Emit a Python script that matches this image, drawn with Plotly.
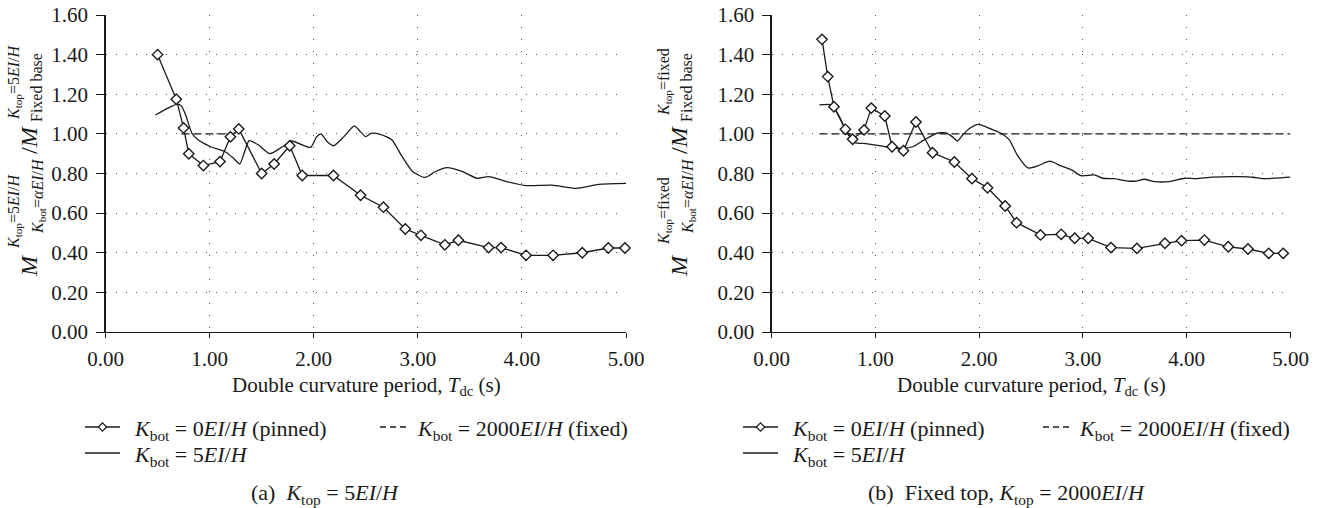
import plotly.graph_objects as go

# ---------------- data ----------------
# (a) K_top = 5EI/H
T_a_pinned = [0.50, 0.68, 0.75, 0.80, 0.94, 1.10, 1.20, 1.28, 1.50, 1.62, 1.77, 1.89, 2.19,
              2.45, 2.67, 2.88, 3.03, 3.26, 3.39, 3.68, 3.80, 4.04, 4.30, 4.58, 4.83, 4.99]
M_a_pinned = [1.40, 1.175, 1.03, 0.90, 0.84, 0.86, 0.985, 1.025, 0.80, 0.848, 0.94, 0.79, 0.79,
              0.69, 0.63, 0.52, 0.488, 0.44, 0.463, 0.426, 0.426, 0.387, 0.387, 0.40, 0.424, 0.424]

T_a_k5 = [0.48, 0.60, 0.69, 0.73, 0.77, 0.83, 0.89, 1.01, 1.15, 1.23, 1.29, 1.33, 1.38, 1.47,
          1.58, 1.70, 1.79, 1.89, 1.97, 2.03, 2.07, 2.13, 2.19, 2.29, 2.39, 2.45, 2.50, 2.55,
          2.64, 2.75, 2.85, 2.95, 3.07, 3.17, 3.28, 3.43, 3.57, 3.68, 3.85, 4.04, 4.29, 4.52,
          4.74, 5.00]
M_a_k5 = [1.095, 1.13, 1.15, 1.14, 1.095, 1.003, 0.97, 0.935, 0.91, 0.877, 0.848, 0.90, 0.966,
          0.944, 0.90, 0.935, 0.964, 0.944, 0.932, 0.986, 1.0, 0.96, 0.94, 0.986, 1.04, 1.01,
          0.986, 1.003, 0.998, 0.97, 0.885, 0.81, 0.78, 0.81, 0.83, 0.81, 0.776, 0.784, 0.76,
          0.739, 0.741, 0.725, 0.745, 0.75]

T_a_fixed = [0.73, 1.21]
M_a_fixed = [1.00, 1.00]

# (b) Fixed top, K_top = 2000EI/H
T_b_pinned = [0.485, 0.54, 0.60, 0.71, 0.78, 0.89, 0.96, 1.09, 1.16, 1.27, 1.39, 1.55, 1.76,
              1.93, 2.08, 2.25, 2.36, 2.59, 2.79, 2.92, 3.05, 3.27, 3.52, 3.79, 3.95, 4.17,
              4.40, 4.59, 4.79, 4.93]
M_b_pinned = [1.477, 1.289, 1.137, 1.023, 0.973, 1.02, 1.13, 1.09, 0.935, 0.915, 1.06, 0.905,
              0.858, 0.774, 0.728, 0.636, 0.552, 0.49, 0.493, 0.473, 0.473, 0.426, 0.422, 0.448,
              0.461, 0.464, 0.43, 0.419, 0.397, 0.397]

T_b_k5 = [0.46, 0.58, 0.66, 0.72, 0.80, 0.91, 1.10, 1.26, 1.36, 1.47, 1.59, 1.68, 1.74, 1.79,
          1.84, 1.91, 1.99, 2.10, 2.21, 2.29, 2.37, 2.47, 2.57, 2.68, 2.79, 2.89, 2.98, 3.11,
          3.19, 3.30, 3.43, 3.51, 3.59, 3.69, 3.83, 3.98, 4.09, 4.25, 4.51, 4.64, 4.73, 4.86,
          5.00]
M_b_k5 = [1.146, 1.146, 1.079, 1.011, 0.956, 0.951, 0.935, 0.927, 0.935, 0.97, 1.003, 1.005,
          0.986, 0.964, 0.994, 1.028, 1.048, 1.028, 1.003, 0.97, 0.89, 0.828, 0.84, 0.862,
          0.838, 0.818, 0.789, 0.793, 0.776, 0.774, 0.762, 0.762, 0.771, 0.759, 0.759, 0.776,
          0.774, 0.782, 0.784, 0.781, 0.774, 0.777, 0.782]

T_b_fixed = [0.46, 5.00]
M_b_fixed = [1.00, 1.00]

x_ticks = [0, 1, 2, 3, 4, 5]
y_ticks = [0.0, 0.2, 0.4, 0.6, 0.8, 1.0, 1.2, 1.4, 1.6]

x_title = "Double curvature period, <i>T</i><sub>dc</sub> (s)"
leg_pinned = "<i>K</i><sub>bot</sub> = 0<i>EI</i>/<i>H</i> (pinned)"
leg_fixed = "<i>K</i><sub>bot</sub> = 2000<i>EI</i>/<i>H</i> (fixed)"
leg_k5 = "<i>K</i><sub>bot</sub> = 5<i>EI</i>/<i>H</i>"
cap_a = "(a)  <i>K</i><sub>top</sub> = 5<i>EI</i>/<i>H</i>"
cap_b = "(b)  Fixed top, <i>K</i><sub>top</sub> = 2000<i>EI</i>/<i>H</i>"

# ---------------- figure ----------------
W, H = 1321, 508
FONT = "Liberation Serif"
INK = "#1a1a1a"
FS = 21


def px(x):
    return x / W


def py(y):
    return 1 - y / H


fig = go.Figure()

panels = [
    ("x", "y", T_a_k5, M_a_k5, T_a_fixed, M_a_fixed, T_a_pinned, M_a_pinned),
    ("x2", "y2", T_b_k5, M_b_k5, T_b_fixed, M_b_fixed, T_b_pinned, M_b_pinned),
]
for xa, ya, tk, mk, tf, mf, tp, mp in panels:
    fig.add_trace(go.Scatter(x=tk, y=mk, mode="lines", xaxis=xa, yaxis=ya, showlegend=False,
                             line=dict(color=INK, width=1.3, shape="spline", smoothing=0.6)))
    fig.add_trace(go.Scatter(x=tf, y=mf, mode="lines", xaxis=xa, yaxis=ya, showlegend=False,
                             line=dict(color=INK, width=1.3, dash="8px,4px")))
    fig.add_trace(go.Scatter(x=tp, y=mp, mode="lines+markers", xaxis=xa, yaxis=ya,
                             showlegend=False, cliponaxis=False, line=dict(color=INK, width=1.3),
                             marker=dict(symbol="diamond", size=8, color="white",
                                         line=dict(color=INK, width=1.4))))

ydom = [py(332), py(15)]
xdom_a = [px(105.5), px(626)]
xdom_b = [px(771.7), px(1290.5)]

common_x = dict(range=[0, 5], tickvals=x_ticks, tickformat=".2f", showline=True,
                linecolor=INK, linewidth=1.3, ticks="outside", ticklen=5, tickcolor=INK,
                showgrid=True, gridcolor="#555", gridwidth=1, griddash="1px,11px",
                zeroline=False, tickfont=dict(family=FONT, size=FS, color=INK),
                ticklabelstandoff=2, automargin=False, ticklabeloverflow="allow")
common_y = dict(range=[0, 1.6], tickvals=y_ticks, tickformat=".2f", showline=True,
                linecolor=INK, linewidth=1.3, ticks="outside", ticklen=8, tickcolor=INK,
                showgrid=True, gridcolor="#555", gridwidth=1, griddash="1px,9px",
                zeroline=False, tickfont=dict(family=FONT, size=FS, color=INK),
                ticklabelstandoff=4, automargin=False, ticklabeloverflow="allow")

fig.update_layout(
    width=W, height=H,
    margin=dict(l=0, r=0, t=0, b=0, autoexpand=False),
    paper_bgcolor="white", plot_bgcolor="white",
    font=dict(family=FONT, size=FS, color=INK),
    hovermode=False,
    xaxis=dict(domain=xdom_a, anchor="y", **common_x),
    yaxis=dict(domain=ydom, anchor="x", **common_y),
    xaxis2=dict(domain=xdom_b, anchor="y2", **common_x),
    yaxis2=dict(domain=ydom, anchor="x2", **common_y),
)

ann = []


def text(x, y, s, size=FS, xanchor="center", yanchor="middle", angle=0):
    ann.append(dict(x=px(x), y=py(y), xref="paper", yref="paper", text=s, showarrow=False,
                    xanchor=xanchor, yanchor=yanchor, textangle=angle,
                    font=dict(family=FONT, size=size, color=INK)))


# x titles
text(366, 386, x_title)
text(1031, 386, x_title)

# legends and captions
for leg_x0, fix_x0, cap_x, cap in [
    (131.7, 415, 325, cap_a),
    (790, 1077, 1006, cap_b),
]:
    text(leg_x0, 430, leg_pinned, size=22, xanchor="left")
    text(leg_x0, 456, leg_k5, size=22, xanchor="left")
    text(fix_x0, 430, leg_fixed, size=22, xanchor="left")
    text(cap_x, 494, cap, size=22)

# y titles built from stacked pieces (rotated)
sub_a = "<i>K</i><sub>bot</sub>=<i>αEI</i>/<i>H</i>"
for mx, sup_txt in [(29, "<i>K</i><sub>top</sub>=5<i>EI</i>/<i>H</i>"),
                    (679, "<i>K</i><sub>top</sub>=fixed")]:
    text(mx, 266, "<i>M</i>", size=24, angle=-90)
    text(mx + 9, 196, sub_a, size=16, angle=-90)
    text(mx - 14, 211, sup_txt, size=16, angle=-90)
    text(mx, 140, "/<i>M</i>", size=24, angle=-90)
    text(mx + 7, 88, "Fixed base", size=16, angle=-90)
    text(mx - 14, 82, sup_txt, size=16, angle=-90)

shapes = []
for sym_x0, dash_x0 in [(85, 380), (743, 1043)]:
    shapes.append(dict(type="line", xref="paper", yref="paper", x0=px(sym_x0), x1=px(sym_x0 + 35),
                       y0=py(427), y1=py(427), line=dict(color=INK, width=1.3)))
    cx, cy, r = sym_x0 + 17.5, 427, 4.2
    shapes.append(dict(type="path", xref="paper", yref="paper",
                       path=f"M {px(cx - r)} {py(cy)} L {px(cx)} {py(cy - r)} L {px(cx + r)} {py(cy)} L {px(cx)} {py(cy + r)} Z",
                       fillcolor="white", line=dict(color=INK, width=1.2)))
    shapes.append(dict(type="line", xref="paper", yref="paper", x0=px(sym_x0), x1=px(sym_x0 + 35),
                       y0=py(453), y1=py(453), line=dict(color=INK, width=1.3)))
    shapes.append(dict(type="line", xref="paper", yref="paper", x0=px(dash_x0), x1=px(dash_x0 + 30),
                       y0=py(427), y1=py(427), line=dict(color=INK, width=1.3, dash="6px,4px")))

fig.update_layout(annotations=ann, shapes=shapes)
fig.write_html("out.html", config={"displayModeBar": False, "staticPlot": True},
               post_script="document.body.style.margin='0';document.body.style.overflow='hidden';")
